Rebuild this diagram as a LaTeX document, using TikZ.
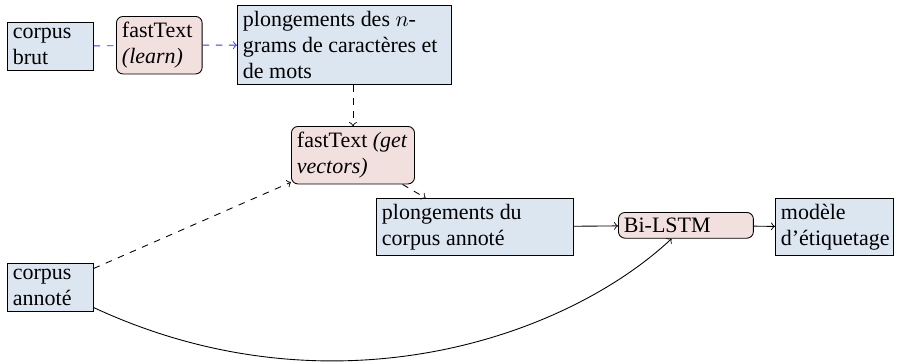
\documentclass[tikz,border=0pt]{standalone}
\usepackage{fontspec}
\setmainfont{Liberation Serif}
\definecolor{datablue}{RGB}{220,230,241}
\definecolor{toolpink}{RGB}{242,224,222}
\tikzset{
	data/.style={draw, fill=datablue, align=flush left, anchor=north west, inner sep=2.5pt},
	tool/.style={data, fill=toolpink, rounded corners=3pt},
}

\begin{document}
\begin{tikzpicture}[x=0.455pt,y=0.455pt,yscale=-1,xscale=1]
	\useasboundingbox (0,0) rectangle (898,363);
	% nodes
	\node [data, text width=34pt] (brut) at (7,22) {corpus brut};
	\node [tool, text width=34pt] (ftlearn) at (116,16) {fastText \textit{(learn)}};
	\node [data, text width=92.4pt] (plgram) at (237,5) {plongements des $n$-\\grams de caractères et de mots};
	\node [tool, text width=51pt] (ftget) at (291,126) {fastText \textit{(get vectors)}};
	\node [data, text width=84.6pt] (plcorp) at (376,198) {plongements du corpus annoté};
	\node [tool, text width=56.4pt] (bilstm) at (618,212) {Bi-LSTM};
	\node [data, text width=48.7pt] (modele) at (775,198) {modèle d'étiquetage};
	\node [data, text width=34pt] (annot) at (7,263) {corpus annoté};
	% connectors
	\draw [blue!80, dashed] (brut) -- (ftlearn);
	\draw [blue!80, dashed, ->] (ftlearn) -- (plgram);
	\draw [dashed, ->] (plgram.south -| ftget) -- (ftget);
	\draw [dashed, ->] (ftget) -- (plcorp);
	\draw [dashed, ->] (annot) -- (ftget);
	\draw [->] (plcorp) -- (bilstm);
	\draw [->] (bilstm) -- (modele);
	\draw [->] (annot) .. controls (329,417) and (563,340) .. (bilstm);
\end{tikzpicture}
\end{document}
